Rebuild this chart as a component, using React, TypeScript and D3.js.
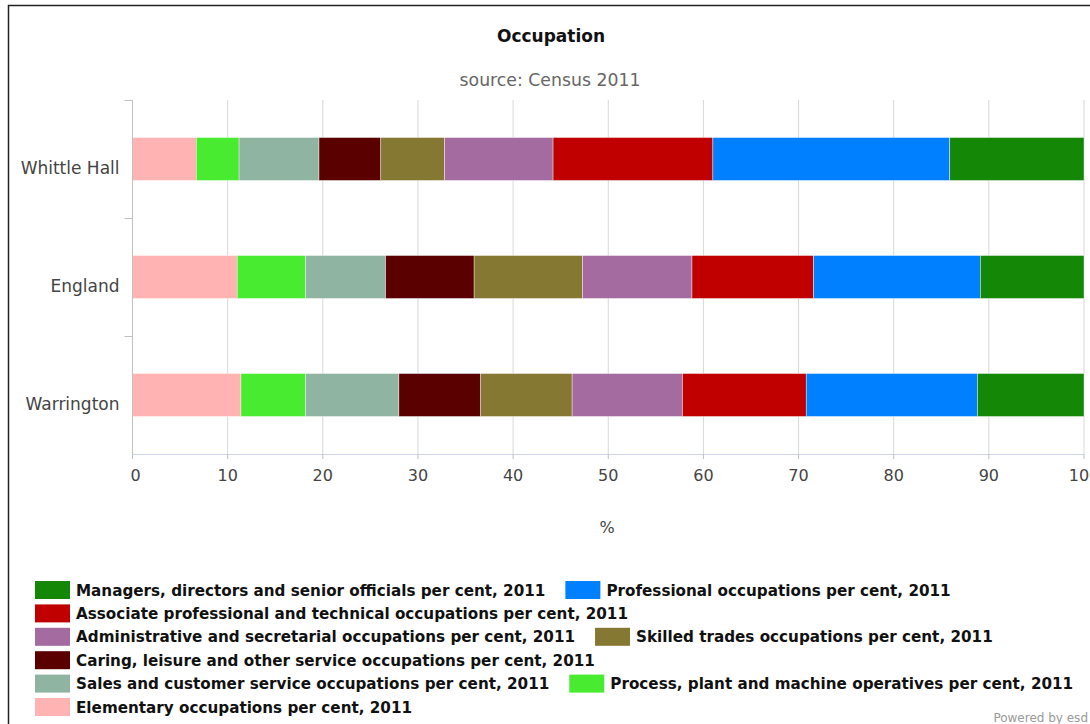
import { useEffect, useRef } from "react";
import * as d3 from "d3";

// areas shown on the chart, top to bottom
const areas = ["Whittle Hall", "England", "Warrington"];

// series in legend order (Managers is drawn at the right end of each stack)
const seriesNames = [
    "Managers, directors and senior officials per cent, 2011",
    "Professional occupations per cent, 2011",
    "Associate professional and technical occupations per cent, 2011",
    "Administrative and secretarial occupations per cent, 2011",
    "Skilled trades occupations per cent, 2011",
    "Caring, leisure and other service occupations per cent, 2011",
    "Sales and customer service occupations per cent, 2011",
    "Process, plant and machine operatives per cent, 2011",
    "Elementary occupations per cent, 2011",
];
const seriesColors = [
    "#148706", "#0080FF", "#C00000", "#A46BA0", "#857832",
    "#5A0000", "#8FB5A2", "#48EB2F", "#FFB3B3",
];

// values per area, same order as seriesNames
const whittleHall = [14.1, 24.9, 16.8, 11.4, 6.7, 6.5, 8.4, 4.5, 6.7];
const england = [10.9, 17.5, 12.8, 11.5, 11.4, 9.3, 8.4, 7.2, 11.0];
const warrington = [11.2, 18.0, 13.0, 11.6, 9.6, 8.6, 9.8, 6.8, 11.4];

const xTicks = [0, 10, 20, 30, 40, 50, 60, 70, 80, 90, 100];

const font = "'DejaVu Sans', Verdana, sans-serif";

export default function App() {
    const svgRef = useRef<SVGSVGElement | null>(null);
    const W = 1090;
    const H = 724;
    const margin = { top: 100, right: 6, bottom: 270, left: 132.5 };

    useEffect(() => {
        const svg = d3.select(svgRef.current);
        svg.selectAll("*").remove();

        svg.append("rect")
            .attr("x", 8.5).attr("y", 5.5)
            .attr("width", W + 10).attr("height", H + 10)
            .attr("fill", "white").attr("stroke", "#222").attr("stroke-width", 1.5);

        const x = d3.scaleLinear().domain([0, 100]).range([margin.left, W - margin.right]);
        const yBand = d3.scaleBand().domain(areas).range([margin.top, H - margin.bottom]);
        const y = d3.scaleBand().domain(areas).range([margin.top, H - margin.bottom])
            .paddingInner(0.636).paddingOuter(0.318);

        // title
        svg.append("text")
            .attr("x", 551).attr("y", 42)
            .attr("text-anchor", "middle")
            .style("font-family", font).style("font-size", "17px").style("font-weight", "bold")
            .attr("fill", "#111")
            .text("Occupation");
        svg.append("text")
            .attr("x", 550).attr("y", 86)
            .attr("text-anchor", "middle")
            .style("font-family", font).style("font-size", "17.3px")
            .attr("fill", "#666")
            .text("source: Census 2011");

        // grid
        const g = svg.append("g");
        g.selectAll("line.grid")
            .data(xTicks.slice(1))
            .join("line")
            .attr("x1", d => x(d)).attr("x2", d => x(d))
            .attr("y1", margin.top).attr("y2", H - margin.bottom)
            .attr("stroke", "#d8d8d8").attr("stroke-width", 1);

        // stacked bars
        const rows = [whittleHall, england, warrington];
        const table = areas.map((a, i) => {
            const row: any = { area: a };
            seriesNames.forEach((s, j) => { row[s] = rows[i][j]; });
            return row;
        });
        // stack from the left starting with Elementary
        const stackKeys = seriesNames.slice().reverse();
        const stacked = d3.stack().keys(stackKeys)(table);
        stacked.forEach((layer: any) => {
            const color = seriesColors[seriesNames.indexOf(layer.key)];
            g.append("g")
                .selectAll("rect")
                .data(layer)
                .join("rect")
                .attr("x", (d: any) => x(d[0]))
                .attr("width", (d: any) => x(Math.min(d[1], 100)) - x(d[0]))
                .attr("y", (d: any) => y(d.data.area)!)
                .attr("height", y.bandwidth())
                .attr("fill", color)
                .attr("stroke", "#fff").attr("stroke-width", 0.4);
        });

        // y axis
        const yAxis = g.append("g")
            .attr("transform", `translate(${margin.left},0)`);
        yAxis.append("line")
            .attr("x1", 0).attr("x2", 0)
            .attr("y1", margin.top).attr("y2", H - margin.bottom)
            .attr("stroke", "#c0c0c0");
        const bounds = areas.map(a => yBand(a)!);
        yAxis.selectAll("line.tick")
            .data(bounds)
            .join("line")
            .attr("x1", -8).attr("x2", 0)
            .attr("y1", d => d + 0.5).attr("y2", d => d + 0.5)
            .attr("stroke", "#c0c0c0");
        yAxis.selectAll("text")
            .data(areas)
            .join("text")
            .attr("x", -13)
            .attr("y", d => yBand(d)! + yBand.bandwidth() / 2 + 15)
            .attr("text-anchor", "end")
            .style("font-family", font).style("font-size", "17px")
            .attr("fill", "#444")
            .text(d => d);

        // x axis
        const xAxis = g.append("g")
            .attr("transform", `translate(0,${H - margin.bottom})`);
        xAxis.append("line")
            .attr("x1", margin.left).attr("x2", W - margin.right)
            .attr("y1", 0.5).attr("y2", 0.5)
            .attr("stroke", "#ccd6eb");
        xAxis.selectAll("line.tick")
            .data(xTicks)
            .join("line")
            .attr("x1", d => x(d)).attr("x2", d => x(d))
            .attr("y1", 0).attr("y2", 5)
            .attr("stroke", "#c0c0c0");
        xAxis.selectAll("text")
            .data(xTicks)
            .join("text")
            .attr("x", d => x(d) + (d === 0 ? 3 : 0))
            .attr("y", 27)
            .attr("text-anchor", "middle")
            .style("font-family", font).style("font-size", "16px")
            .attr("fill", "#444")
            .text(d => String(d));
        svg.append("text")
            .attr("x", 607).attr("y", 533)
            .attr("text-anchor", "middle")
            .style("font-family", font).style("font-size", "16px")
            .attr("fill", "#444")
            .text("%");

        // legend, wraps like a horizontal legend
        const legend = svg.append("g");
        let lx = 35;
        let ly = 581;
        const maxX = 1082;
        seriesNames.forEach((name, i) => {
            const item = legend.append("g");
            const t = item.append("text")
                .attr("x", 41).attr("y", 14.5)
                .style("font-family", font).style("font-size", "15.2px").style("font-weight", "bold")
                .attr("fill", "#111")
                .text(name);
            const w = 41 + (t.node() as SVGTextElement).getComputedTextLength();
            if (lx > 35 && lx + w > maxX) {
                lx = 35;
                ly += 23.4;
            }
            item.attr("transform", `translate(${lx},${ly})`);
            item.insert("rect", "text")
                .attr("x", 0).attr("y", 0)
                .attr("width", 35).attr("height", 18)
                .attr("fill", seriesColors[i]);
            lx += w + 20;
        });

        svg.append("text")
            .attr("x", 1088).attr("y", 722)
            .attr("text-anchor", "end")
            .style("font-family", font).style("font-size", "12px")
            .attr("fill", "#999")
            .text("Powered by esd");
    }, []);

    return (
        <svg ref={svgRef} width={W} height={H}
            style={{ position: "absolute", left: 0, top: 0, background: "white" }} />
    );
}
